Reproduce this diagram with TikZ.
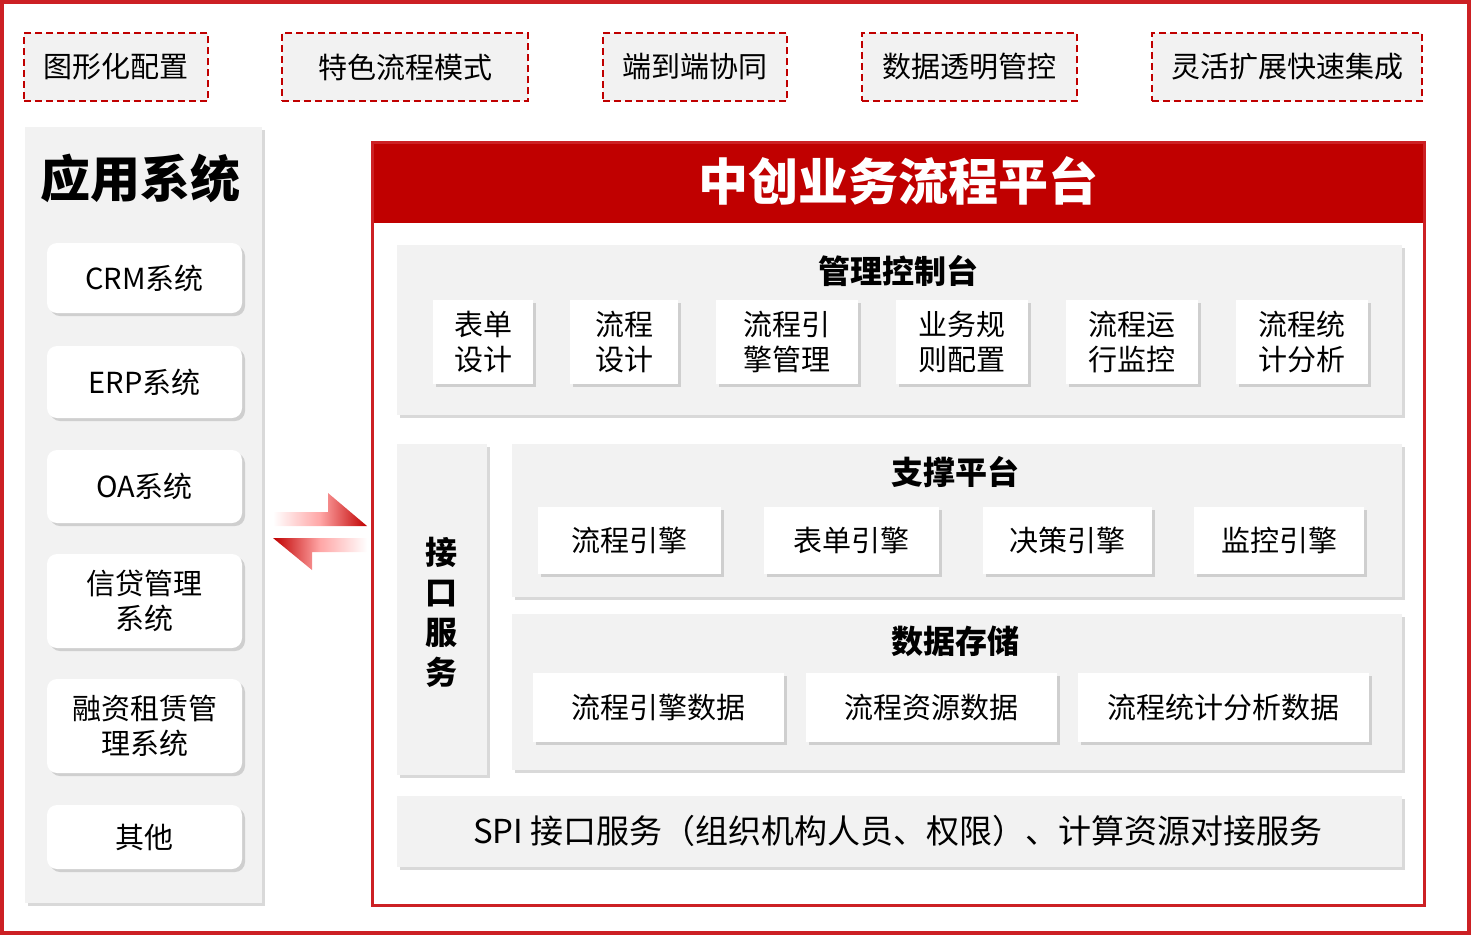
\documentclass[tikz,border=0pt]{standalone}
\usepackage{fontspec}
\setmainfont{Noto Sans CJK SC}
\usetikzlibrary{positioning, shadows}
\definecolor{darkred}{RGB}{192,0,0}
\definecolor{framered}{RGB}{204,32,36}
\definecolor{panelgray}{RGB}{242,242,242}

\begin{document}
\begin{tikzpicture}[x=1pt, y=-1pt,
    tag/.style={draw=darkred, line width=2pt, dash pattern=on 7pt off 4pt, fill=panelgray,
      minimum height=68pt, inner sep=0, font=\fontsize{29}{32}\selectfont},
    shade box/.style={drop shadow={shadow xshift=3pt, shadow yshift=-3pt, opacity=0.3}},
    panel/.style={fill=panelgray, shade box},
    appbox/.style={fill=white, rounded corners=10pt, shade box, minimum width=195pt,
      inner sep=0, align=center, font=\fontsize{29}{35}\selectfont},
    cell/.style={fill=white, shade box, inner sep=0, align=center, font=\fontsize{29}{35}\selectfont},
    heading/.style={font=\fontsize{32}{36}\selectfont\bfseries}]
  \useasboundingbox (0,0) rectangle (1471,935);
  \draw[framered, line width=4pt] (2,2) rectangle (1469,933);

  % top tags
  \node[tag, minimum width=184pt] (t1) at (116,67) {图形化配置};
  \node[tag, minimum width=246pt] (t2) at (405,67) {特色流程模式};
  \node[tag, minimum width=184pt] (t3) at (695,67) {端到端协同};
  \node[tag, minimum width=215pt] (t4) at (969.5,67) {数据透明管控};
  \node[tag, minimum width=270pt] (t5) at (1287,67) {灵活扩展快速集成};

  % application systems
  \path[panel] (25,127) rectangle (262,903);
  \node[font=\fontsize{50}{54}\selectfont\bfseries] (apps) at (140,178) {应用系统};
  \node[appbox, minimum height=70pt] (crm) at (144.5,278) {CRM系统};
  \node[appbox, minimum height=72pt] (erp) at (144.5,382) {ERP系统};
  \node[appbox, minimum height=73pt] (oa) at (144.5,486.5) {OA系统};
  \node[appbox, minimum height=94pt] (credit) at (144.5,601) {信贷管理\\系统};
  \node[appbox, minimum height=94pt] (lease) at (144.5,726) {融资租赁管\\理系统};
  \node[appbox, minimum height=64pt] (other) at (144.5,837) {其他};

  % exchange arrows
  \shade[left color=white, right color=darkred, middle color=red!35]
    (273,512) -- (328,512) -- (328,493) -- (367,526) -- (273,526) -- cycle;
  \shade[right color=white, left color=darkred, middle color=red!35]
    (367,538) -- (273,538) -- (312,570) -- (312,552) -- (367,552) -- cycle;

  % platform
  \fill[darkred] (372,142) rectangle (1424,223);
  \draw[framered, line width=3pt] (372,142) rectangle (1424,905);
  \node[text=white, font=\fontsize{50}{54}\selectfont\bfseries] (title) at (898,181) {中创业务流程平台};

  % management console
  \path[panel] (397,245) rectangle (1402,415);
  \node[heading] (mgmt) at (898,271) {管理控制台};
  \foreach \cx/\w/\txt in {483/100/表单\\设计, 624/108/流程\\设计, 787/142/流程引\\擎管理,
      962/132/业务规\\则配置, 1132/132/流程运\\行监控, 1302/132/流程统\\计分析}
    \node[cell, minimum width=\w pt, minimum height=84pt] at (\cx,342) {\txt};

  % interface service
  \path[panel] (397,444) rectangle (487,775);
  \node[align=center, font=\fontsize{32}{40}\selectfont\bfseries] (iface) at (441,612) {接\\口\\服\\务};

  % support platform
  \path[panel] (512,444) rectangle (1402,597);
  \node[heading] (support) at (955,472) {支撑平台};
  \foreach \cx/\w/\txt in {629.5/183/流程引擎, 851.5/175/表单引擎, 1067.5/169/决策引擎, 1279/170/监控引擎}
    \node[cell, minimum width=\w pt, minimum height=67pt] at (\cx,540.5) {\txt};

  % data storage
  \path[panel] (512,614) rectangle (1402,770);
  \node[heading] (storage) at (955,641) {数据存储};
  \foreach \cx/\w/\txt in {658.5/251/流程引擎数据, 931.5/251/流程资源数据, 1223.5/291/流程统计分析数据}
    \node[cell, minimum width=\w pt, minimum height=69pt] at (\cx,707.5) {\txt};

  % spi
  \path[panel] (397,796) rectangle (1402,867);
  \node[font=\fontsize{33}{38}\selectfont] (spi) at (898,831) {SPI 接口服务（组织机构人员、权限）、计算资源对接服务};
\end{tikzpicture}
\end{document}
